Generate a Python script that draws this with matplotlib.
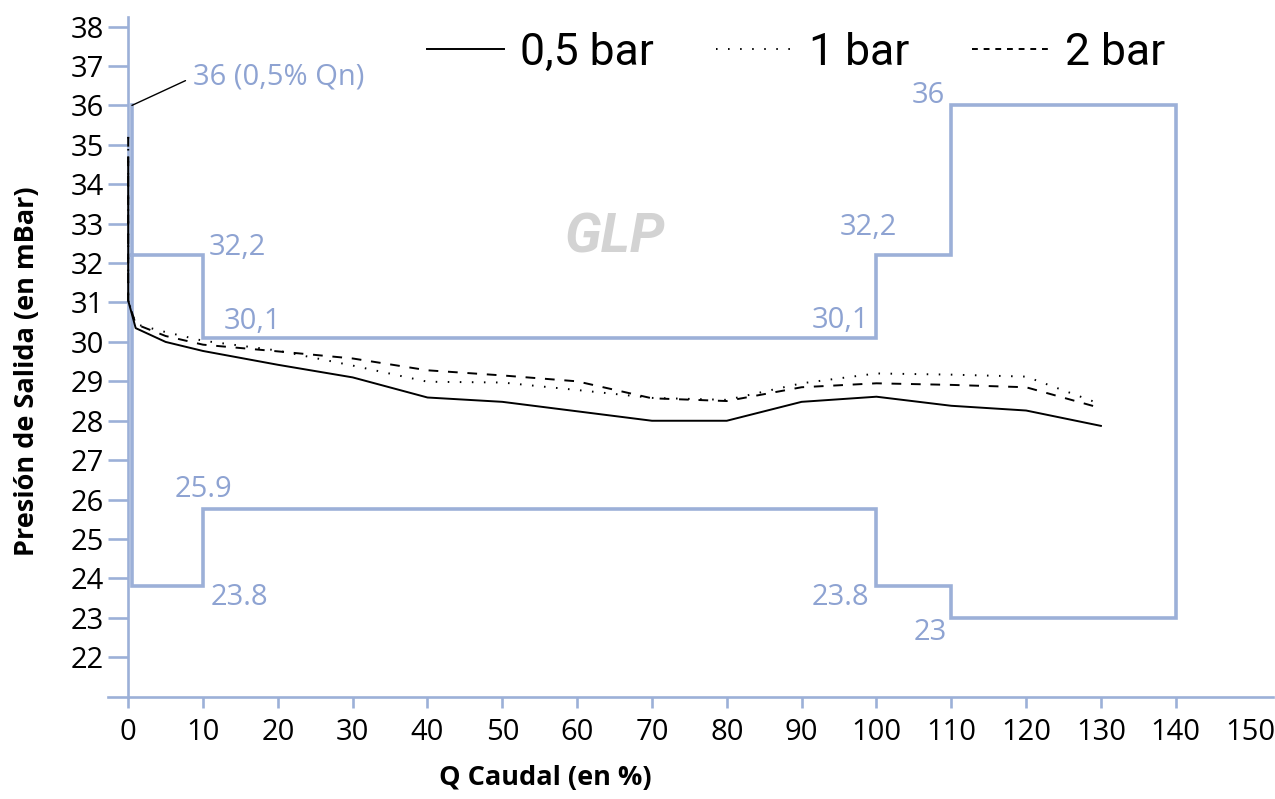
import matplotlib
matplotlib.use("Agg")
import matplotlib.pyplot as plt
from matplotlib.lines import Line2D

# ---------------- data ----------------
q_caudal = [0, 0, 1, 5, 10, 20, 30, 40, 50, 60, 70, 80, 90, 100, 110, 120, 130]
p_05bar = [34.67, 31.05, 30.35, 30.00, 29.77, 29.42, 29.10, 28.59, 28.48, 28.24,
           28.00, 28.00, 28.48, 28.61, 28.38, 28.26, 27.87]
p_1bar = [35.20, 31.05, 30.45, 30.25, 30.03, 29.78, 29.40, 28.99, 28.97, 28.78,
          28.58, 28.53, 28.95, 29.20, 29.17, 29.12, 28.42]
p_2bar = [35.20, 31.05, 30.45, 30.15, 29.93, 29.76, 29.58, 29.28, 29.15, 29.00,
          28.57, 28.50, 28.85, 28.95, 28.91, 28.85, 28.32]
series_labels = ["0,5 bar", "1 bar", "2 bar"]

# tolerance envelope (limits)
limit_x = [0.5, 0.5, 10, 10, 100, 100, 110, 110, 140, 140, 110, 110, 100, 100, 10, 10, 0.5, 0.5]
limit_y = [36, 32.2, 32.2, 30.1, 30.1, 32.2, 32.2, 36, 36, 23, 23, 23.8, 23.8, 25.75, 25.75, 23.8, 23.8, 32.2]

x_ticks = list(range(0, 151, 10))
y_ticks = list(range(22, 39))

# annotations: (text, x, y, ha)
limit_labels = [
    ("32,2", 10.7, 32.40, "left"),
    ("30,1", 12.7, 30.52, "left"),
    ("30,1", 99.0, 30.55, "right"),
    ("32,2", 102.8, 32.90, "right"),
    ("36", 109.2, 36.25, "right"),
    ("25.9", 10.0, 26.25, "center"),
    ("23.8", 11.0, 23.52, "left"),
    ("23.8", 99.0, 23.52, "right"),
    ("23", 109.4, 22.62, "right"),
]

# ---------------- style ----------------
BLUE = "#9cb0d8"
BLUE_TXT = "#8ea3d2"
NUM_FONT = ["Open Sans", "DejaVu Sans"]
NARROW = ["Liberation Sans Narrow", "Roboto", "DejaVu Sans"]

fig = plt.figure(figsize=(12.75, 7.99), dpi=100)
ax = fig.add_axes([108 / 1275, 102.3 / 799, 1165 / 1275, 680 / 799])
ax.set_xlim(-2.7, 153.0)
ax.set_ylim(21, 38.25)

for s in ("top", "right"):
    ax.spines[s].set_visible(False)
ax.spines["left"].set_position(("data", 0))
for s in ("left", "bottom"):
    ax.spines[s].set_color(BLUE)
    ax.spines[s].set_linewidth(1.9)

ax.set_xticks(x_ticks)
ax.set_yticks(y_ticks)
ax.tick_params(axis="x", length=8, width=1.9, color=BLUE, pad=7, labelsize=21)
ax.tick_params(axis="y", length=14.5, width=1.9, color=BLUE, pad=3, labelsize=21)
for lab in ax.get_xticklabels() + ax.get_yticklabels():
    lab.set_fontfamily(NUM_FONT)
# no tick mark for the last label (150)
ax.xaxis.get_major_ticks()[-1].tick1line.set_visible(False)

# limits envelope
ax.plot(limit_x, limit_y, color=BLUE, lw=2.6, solid_joinstyle="miter", zorder=2)

# data lines
lw = 1.4
ax.plot(q_caudal, p_05bar, color="black", lw=lw, ls="-", zorder=3)
ax.plot(q_caudal, p_1bar, color="black", lw=lw, ls=(0, (0.8, 5.4)), zorder=3)
ax.plot(q_caudal, p_2bar, color="black", lw=lw, ls=(0, (5.0, 5.0)), zorder=3)

for txt, x, y, ha in limit_labels:
    ax.text(x, y, txt, color=BLUE_TXT, fontsize=21, ha=ha, va="center",
            family=NUM_FONT, zorder=4)

ax.annotate("36 (0,5% Qn)", xy=(0.5, 36), xytext=(8.7, 36.72),
            color=BLUE_TXT, fontsize=21, family=NUM_FONT, va="center", ha="left",
            arrowprops=dict(arrowstyle="-", color="black", lw=1.0,
                            shrinkA=4, shrinkB=0, relpos=(0, 0.5)))

ax.text(65.1, 32.66, "GLP", color="#d3d3d3", fontsize=40, fontweight="bold",
        fontstyle="italic", ha="center", va="center", family=NARROW, zorder=1)

ax.set_xlabel("Q Caudal (en %)", fontsize=19.5, fontweight="bold", family=NUM_FONT)
ax.set_ylabel("Presión de Salida (en mBar)", fontsize=19.5, fontweight="bold", family=NUM_FONT)
ax.xaxis.set_label_coords(0.375, -0.100)
ax.yaxis.set_label_coords(-0.058, 0.479)

handles = [
    Line2D([], [], color="black", lw=1.4, ls="-"),
    Line2D([], [], color="black", lw=1.4, ls=(0, (0.8, 5.4))),
    Line2D([], [], color="black", lw=1.4, ls=(0, (3.0, 3.0))),
]
leg = ax.legend(handles, series_labels, ncol=3, frameon=False,
                loc="upper right", bbox_to_anchor=(0.923, 1.004),
                handlelength=1.75, handletextpad=0.35, columnspacing=1.4,
                borderaxespad=0.0, prop={"family": NARROW, "size": 32})

fig.savefig("out.png", dpi=100)
